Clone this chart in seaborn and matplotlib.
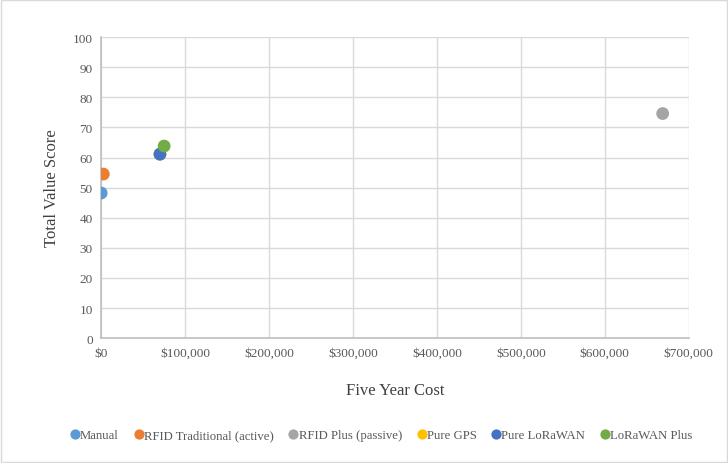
import matplotlib
matplotlib.use("Agg")
import matplotlib.pyplot as plt
import seaborn as sns
import pandas as pd
from matplotlib.ticker import FuncFormatter, MultipleLocator

series = ["Manual", "RFID Traditional (active)", "RFID Plus (passive)",
          "Pure GPS", "Pure LoRaWAN", "LoRaWAN Plus"]
five_year_cost = [0, 2500, 669000, 70000, 70000, 75000]
total_value_score = [48.2, 54.5, 74.6, 61.1, 61.1, 63.8]
colors = ["#5B9BD5", "#ED7D31", "#A5A5A5", "#FFC000", "#4472C4", "#70AD47"]

df = pd.DataFrame({"Series": series, "Cost": five_year_cost, "Score": total_value_score})

sns.set_style("white")
plt.rcParams["font.family"] = "serif"
plt.rcParams["font.serif"] = ["Liberation Serif", "DejaVu Serif"]
plt.rcParams["text.parse_math"] = False

fig = plt.figure(figsize=(7.28, 4.64), dpi=100)
ax = fig.add_axes([0.139, 0.269, 0.807, 0.649])

sns.scatterplot(data=df, x="Cost", y="Score", hue="Series", hue_order=series,
                palette=colors, s=85, edgecolor="none", ax=ax, legend=True, zorder=3)

ax.set_xlim(0, 700000)
ax.set_ylim(0, 100)
ax.xaxis.set_major_locator(MultipleLocator(100000))
ax.yaxis.set_major_locator(MultipleLocator(10))
ax.xaxis.set_major_formatter(FuncFormatter(lambda v, p: f"${v:,.0f}"))
ax.grid(True, color="#D9D9D9", linewidth=1)
ax.set_axisbelow(True)
for side in ["top", "right"]:
    ax.spines[side].set_visible(False)
for side in ["left", "bottom"]:
    ax.spines[side].set_color("#BFBFBF")
    ax.spines[side].set_linewidth(1.2)
ax.tick_params(axis="both", length=0, labelsize=9.5, colors="#595959", pad=6)

ax.set_xlabel("Five Year Cost", fontsize=12, color="#404040", labelpad=17)
ax.set_ylabel("Total Value Score", fontsize=12, color="#404040", labelpad=9)

handles, labels = ax.get_legend_handles_labels()
ax.legend_.remove()
fig.legend(handles, labels, loc="center", bbox_to_anchor=(0.522, 0.06), ncol=6,
           frameon=False, handletextpad=-0.2, columnspacing=0.95,
           handlelength=1.2, markerscale=0.8, labelcolor="#595959",
           prop={"family": "serif", "size": 9.2})

fig.patches.append(plt.Rectangle((0.002, 0.002), 0.996, 0.996, transform=fig.transFigure,
                                 fill=False, edgecolor="#D9D9D9", linewidth=1))

fig.savefig("out.png", dpi=100)
